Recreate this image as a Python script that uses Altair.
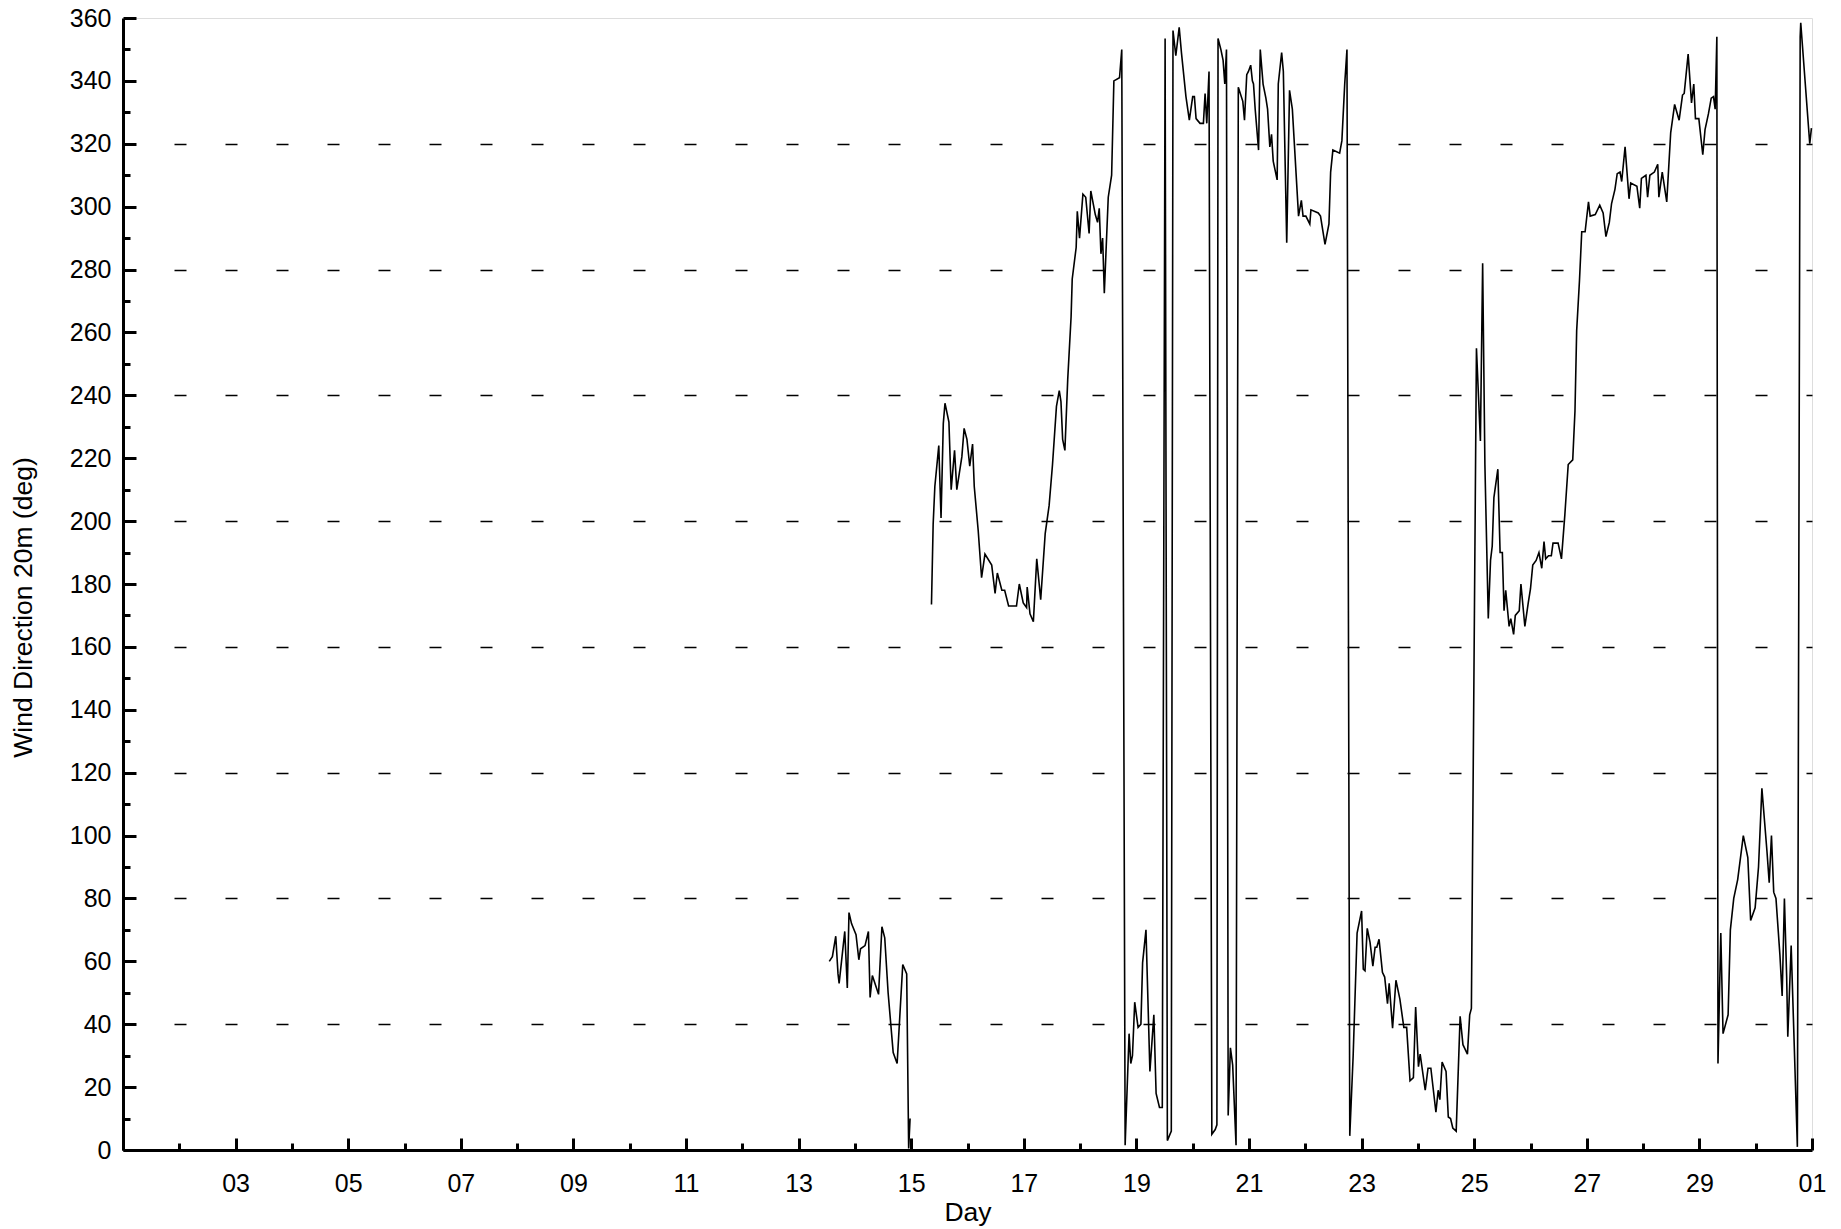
import altair as alt
import pandas as pd

# ---- data (day of month, fractional; wind direction in degrees) ----
seg1_day = [13.545, 13.60, 13.66, 13.70, 13.72, 13.82, 13.865, 13.895, 13.94, 14.02, 14.07, 14.10,
            14.18, 14.24, 14.27, 14.31, 14.42, 14.48, 14.53, 14.59, 14.68, 14.75, 14.85, 14.92,
            14.955, 14.98]
seg1_dir = [60, 61.5, 68, 56, 53, 69.5, 51.5, 75.5, 72, 68.5, 60.5, 64,
            65, 69.5, 48.5, 55.5, 49.5, 71, 67.5, 50, 31, 27.5, 59, 56,
            0.5, 10]

seg2_day = [15.36, 15.39, 15.42, 15.49, 15.53, 15.57, 15.60, 15.67, 15.71, 15.77, 15.81, 15.90,
            15.94, 15.99, 16.04, 16.09, 16.12, 16.19, 16.25, 16.31, 16.43, 16.49, 16.53, 16.61,
            16.66, 16.73, 16.87, 16.92, 16.99, 17.05, 17.06, 17.11, 17.17, 17.23, 17.30, 17.38,
            17.45, 17.51, 17.58, 17.63, 17.66, 17.69, 17.73, 17.78, 17.84, 17.86, 17.93, 17.95,
            17.99, 18.05, 18.10, 18.16, 18.19, 18.27, 18.31, 18.34, 18.37, 18.40, 18.43, 18.50,
            18.56, 18.60, 18.70, 18.74, 18.80, 18.87, 18.90, 18.93, 18.97, 19.03, 19.08, 19.11,
            19.17, 19.24, 19.31, 19.35, 19.41, 19.46, 19.51, 19.55, 19.62, 19.65, 19.70, 19.76,
            19.80, 19.88, 19.94, 20.00, 20.03, 20.06, 20.13, 20.19, 20.22, 20.25, 20.29, 20.34,
            20.40, 20.43, 20.45, 20.50, 20.54, 20.57, 20.60, 20.63, 20.67, 20.71, 20.77, 20.81,
            20.89, 20.92, 20.96, 20.99, 21.03, 21.06, 21.08, 21.11, 21.17, 21.20, 21.25, 21.30,
            21.33, 21.37, 21.40, 21.43, 21.50, 21.52, 21.58, 21.61, 21.67, 21.72, 21.77, 21.88,
            21.93, 21.96, 22.01, 22.08, 22.10, 22.23, 22.27, 22.35, 22.42, 22.45, 22.49, 22.61,
            22.65, 22.70, 22.74, 22.79, 22.85, 22.92, 23.00, 23.03, 23.06, 23.10, 23.15, 23.20,
            23.24, 23.27, 23.31, 23.37, 23.41, 23.46, 23.49, 23.55, 23.61, 23.68, 23.75, 23.80,
            23.86, 23.92, 23.96, 24.01, 24.04, 24.13, 24.18, 24.23, 24.32, 24.36, 24.39, 24.43,
            24.50, 24.54, 24.58, 24.62, 24.68, 24.75, 24.80, 24.88, 24.92, 24.95, 25.04, 25.11,
            25.15, 25.19, 25.25, 25.29, 25.32, 25.35, 25.42, 25.46, 25.50, 25.53, 25.56, 25.62,
            25.65, 25.70, 25.73, 25.80, 25.83, 25.90, 25.96, 26.00, 26.04, 26.10, 26.15, 26.20,
            26.24, 26.27, 26.32, 26.37, 26.40, 26.49, 26.55, 26.61, 26.67, 26.75, 26.79, 26.82,
            26.87, 26.91, 26.97, 27.03, 27.06, 27.15, 27.23, 27.29, 27.34, 27.40, 27.44, 27.50,
            27.54, 27.59, 27.62, 27.68, 27.75, 27.78, 27.89, 27.94, 27.97, 28.05, 28.08, 28.12,
            28.20, 28.26, 28.28, 28.34, 28.42, 28.49, 28.56, 28.64, 28.70, 28.73, 28.80, 28.86,
            28.90, 28.93, 28.99, 29.06, 29.10, 29.16, 29.21, 29.25, 29.28, 29.31, 29.33, 29.38,
            29.42, 29.51, 29.55, 29.61, 29.68, 29.78, 29.86, 29.91, 29.99, 30.05, 30.11, 30.20,
            30.24, 30.28, 30.32, 30.36, 30.43, 30.47, 30.51, 30.55, 30.57, 30.63, 30.74, 30.79,
            30.80, 30.96, 30.99]
seg2_dir = [173.5, 199, 211, 224, 201, 231, 237.5, 231.5, 210, 222.5, 210, 220.5,
            229.5, 226, 217.5, 224.5, 211, 197, 182, 189.5, 186, 177, 183.5, 178,
            178, 173, 173, 180, 174, 172.5, 179, 170.5, 168, 188, 175, 196,
            205, 218, 236.5, 241.5, 238, 226, 222.5, 245, 265, 277, 287, 298.5,
            290, 304, 303, 291.5, 305, 297.5, 295, 299.5, 285, 290, 272.5, 303,
            310, 340, 341, 350, 1.5, 37, 27.5, 30, 47, 39, 40, 59.5,
            70, 25, 43, 18, 13.5, 13.5, 353.5, 3, 6, 356, 348, 357,
            349, 335, 327.5, 335, 335, 328, 326.5, 326.5, 336, 326.5, 343, 5,
            6.5, 8, 353.5, 350, 346.5, 339, 350, 11, 32.5, 27, 1.5, 338,
            333.5, 327.5, 342, 343, 345, 340, 339, 331, 318, 350, 339, 334.5,
            331, 319, 323, 314.5, 308.5, 339, 349, 343, 288.5, 337, 331, 297,
            302, 297, 297, 294.5, 299, 298, 297, 288, 294.5, 311, 318, 317,
            321, 339, 350, 4.5, 30, 69, 76, 57.5, 57, 70.5, 66, 58.5,
            64.5, 64.5, 67, 56.5, 55, 46.5, 53, 38.7, 54, 48, 39, 39,
            22, 23, 45.5, 26.5, 30.5, 19, 26, 26, 12, 19, 16, 28,
            25, 10.5, 10, 7, 6, 42.5, 33.5, 30.5, 43, 45, 255, 225.5,
            282, 218, 169, 187.5, 192, 207.5, 216.5, 190, 190, 171.5, 178, 166.5,
            169, 164, 170, 171.5, 180, 166.5, 174, 178.5, 186, 187.5, 190, 185,
            193.5, 188, 189, 189, 193, 193, 188, 202, 218, 219.5, 235, 260.5,
            276.5, 292, 292, 301.5, 297, 297.5, 300.5, 298, 290.5, 295, 301, 305.5,
            310.5, 311, 308, 319, 302.5, 307.5, 306.5, 299.5, 309, 310, 303, 310,
            311, 313.5, 303, 311, 301.5, 323.5, 332.5, 327.5, 335.5, 336, 348.5, 333,
            339, 328, 328, 316.5, 324.5, 329.5, 334.5, 335, 331, 354, 27.5, 69,
            37, 43, 70, 80, 86, 100, 93, 73, 77, 90, 115, 95,
            85, 100, 82, 80, 62, 49, 80, 55, 36, 65, 1, 354,
            358.5, 320, 325]

x_major_days = list(range(1, 32, 2))      # 01, 03, ..., 29, 01 (next month)
x_label_days = list(range(3, 32, 2))
x_minor_days = list(range(2, 31, 2))
y_major = list(range(0, 361, 20))
y_minor = list(range(10, 351, 20))
y_grid = list(range(40, 321, 40))

df = pd.DataFrame({
    "day": seg1_day + seg2_day,
    "dir": seg1_dir + seg2_dir,
    "seg": ["a"] * len(seg1_day) + ["b"] * len(seg2_day),
})

W, H = 1689, 1132
FONT = "Liberation Sans"
FS = 25
TFS = 26.5

sx = alt.Scale(domain=[1, 31], nice=False, zero=False)
sy = alt.Scale(domain=[0, 360], nice=False, zero=False)


def base(opacity):
    return alt.Chart(df).mark_line(color="black", strokeWidth=1.6, opacity=opacity)


label_expr = "datum.value >= 31 ? '01' : (datum.value < 10 ? '0' + datum.value : '' + datum.value)"

main = base(1).encode(
    x=alt.X("day:Q", scale=sx, axis=alt.Axis(
        orient="bottom", values=x_label_days, labelExpr=label_expr, ticks=False, tickSize=0,
        domain=True, domainColor="black", domainWidth=3, grid=False,
        labelFontSize=FS, labelPadding=21, labelOverlap=False, labelFlush=False,
        title="Day", titleFontSize=TFS, titleFontWeight="normal", titlePadding=3)),
    y=alt.Y("dir:Q", scale=sy, axis=alt.Axis(
        orient="left", values=y_major, ticks=False, tickSize=0,
        domain=True, domainColor="black", domainWidth=3, grid=False,
        labelFontSize=FS, labelPadding=12, labelOverlap=False, labelFlush=False,
        title="Wind Direction 20m (deg)", titleFontSize=TFS, titleFontWeight="normal",
        titlePadding=32, titleY=H / 2 + 23)),
    detail="seg:N",
)

grid = base(0).encode(
    x=alt.X("day:Q", scale=sx, axis=None),
    y=alt.Y("dir:Q", scale=sy, axis=alt.Axis(
        orient="left", values=y_grid, grid=True, gridColor="black", gridWidth=1.3,
        gridDash=[12, 39], domain=False, ticks=False, labels=False, title=None)),
    detail="seg:N",
)

major_ticks = base(0).encode(
    x=alt.X("day:Q", scale=sx, axis=alt.Axis(
        orient="top", offset=-H, values=x_major_days, ticks=True, tickSize=12, tickWidth=3,
        tickColor="black", domain=False, labels=False, grid=False, title=None)),
    y=alt.Y("dir:Q", scale=sy, axis=alt.Axis(
        orient="right", offset=-W, values=y_major, ticks=True, tickSize=13, tickWidth=3,
        tickColor="black", domain=False, labels=False, grid=False, title=None)),
    detail="seg:N",
)

minor_ticks = base(0).encode(
    x=alt.X("day:Q", scale=sx, axis=alt.Axis(
        orient="top", offset=-H, values=x_minor_days, ticks=True, tickSize=7, tickWidth=3,
        tickColor="black", domain=False, labels=False, grid=False, title=None)),
    y=alt.Y("dir:Q", scale=sy, axis=alt.Axis(
        orient="right", offset=-W, values=y_minor, ticks=True, tickSize=7, tickWidth=3,
        tickColor="black", domain=False, labels=False, grid=False, title=None)),
    detail="seg:N",
)

chart = alt.layer(grid, major_ticks, minor_ticks, main).resolve_axis(
    x="independent", y="independent"
).properties(
    width=W, height=H,
    autosize=alt.AutoSizeParams(type="none"),
    padding={"left": 115, "top": 10, "right": 14, "bottom": 76},
).configure_view(
    stroke="black", strokeWidth=3
).configure_axis(
    labelFont=FONT, titleFont=FONT, labelColor="black", titleColor="black"
).configure(background="white")

chart.save("out.html", embed_options={"renderer": "svg", "actions": False})
